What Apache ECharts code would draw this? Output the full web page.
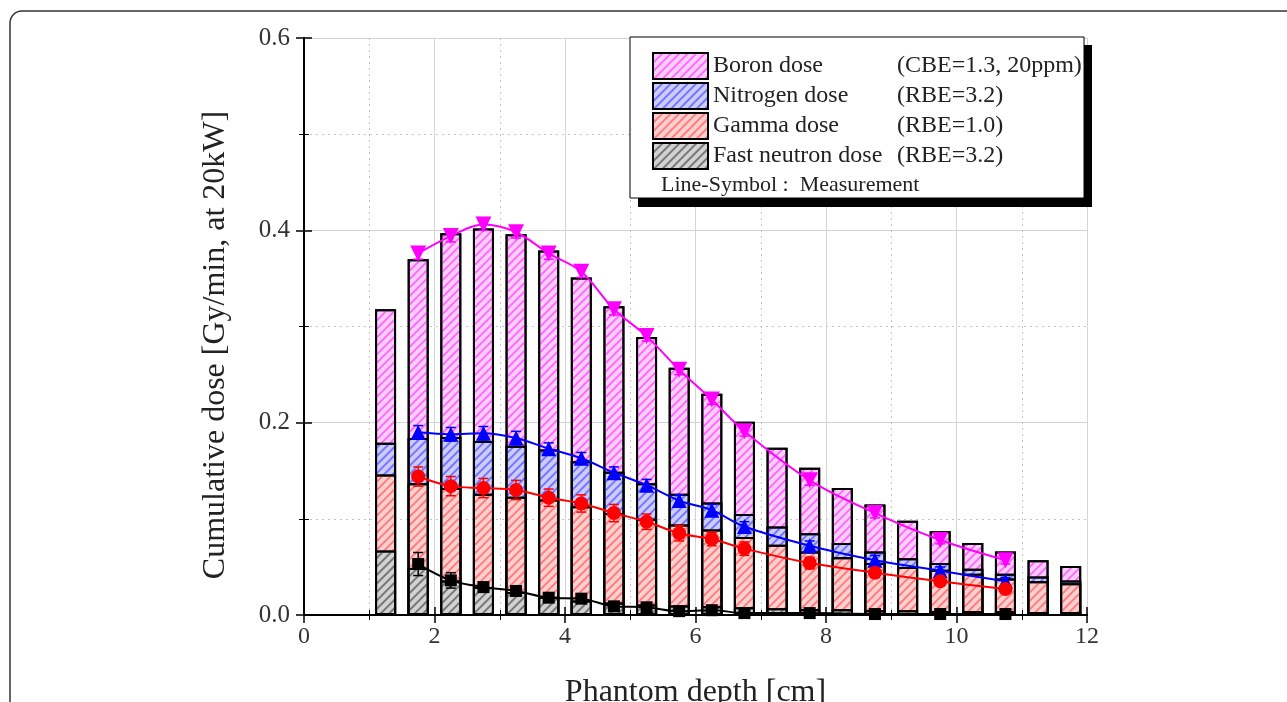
<!DOCTYPE html>
<html>
<head>
<meta charset="utf-8">
<script src="https://cdn.jsdelivr.net/npm/echarts@6.0.0/dist/echarts.min.js"></script>
<style>
  html, body { margin: 0; padding: 0; background: #fff; }
  #chart { width: 1287px; height: 702px; }
</style>
</head>
<body>
<div id="chart"></div>
<script>
// bar positions (cm) and cumulative tops of each stacked part
const barDepth = [1.25, 1.75, 2.25, 2.75, 3.25, 3.75, 4.25, 4.75, 5.25, 5.75, 6.25, 6.75,
  7.25, 7.75, 8.25, 8.75, 9.25, 9.75, 10.25, 10.75, 11.25, 11.75]
const boronTop = [0.318, 0.370, 0.397, 0.402, 0.396, 0.379, 0.351, 0.321, 0.289, 0.257, 0.230, 0.201,
  0.174, 0.153, 0.132, 0.115, 0.098, 0.087, 0.075, 0.066, 0.057, 0.051]
const nitrogenTop = [0.179, 0.184, 0.185, 0.181, 0.176, 0.172, 0.160, 0.149, 0.137, 0.126, 0.117, 0.105,
  0.092, 0.085, 0.075, 0.066, 0.059, 0.054, 0.048, 0.043, 0.040, 0.036]
const gammaTop = [0.146, 0.137, 0.132, 0.126, 0.123, 0.120, 0.113, 0.106, 0.100, 0.094, 0.089, 0.081,
  0.073, 0.066, 0.060, 0.054, 0.050, 0.047, 0.043, 0.038, 0.035, 0.033]
const fastTop = [0.067, 0.049, 0.036, 0.029, 0.024, 0.019, 0.015, 0.013, 0.011, 0.010, 0.009, 0.008,
  0.007, 0.006, 0.006, 0.005, 0.005, 0.004, 0.004, 0.004, 0.003, 0.003]

// measurements (line + symbol)
const measDepth = [1.75, 2.25, 2.75, 3.25, 3.75, 4.25, 4.75, 5.25, 5.75, 6.25, 6.75, 7.75, 8.75, 9.75, 10.75]
const boronMeas = [0.376, 0.394, 0.406, 0.398, 0.376, 0.357, 0.318, 0.290, 0.255, 0.224, 0.191, 0.140, 0.106, 0.078, 0.057]
const nitrogenMeas = [0.190, 0.188, 0.189, 0.184, 0.173, 0.163, 0.148, 0.135, 0.119, 0.109, 0.092, 0.072, 0.057, 0.046, 0.035]
const gammaMeas = [0.144, 0.134, 0.132, 0.130, 0.122, 0.116, 0.106, 0.097, 0.085, 0.079, 0.069, 0.054, 0.044, 0.035, 0.027]
const fastMeas = [0.053, 0.036, 0.029, 0.025, 0.018, 0.017, 0.009, 0.008, 0.004, 0.005, 0.002, 0.002, 0.001, 0.001, 0.001]
const boronErr = [0.006, 0.006, 0.006, 0.006, 0.006, 0.006, 0.006, 0.005, 0.005, 0.005, 0.005, 0.005, 0.005, 0.004, 0.004]
const nitrogenErr = [0.007, 0.007, 0.007, 0.007, 0.006, 0.006, 0.006, 0.006, 0.006, 0.006, 0.005, 0.005, 0.005, 0.004, 0.004]
const gammaErr = [0.010, 0.010, 0.010, 0.010, 0.009, 0.009, 0.009, 0.008, 0.008, 0.007, 0.007, 0.006, 0.005, 0.004, 0.004]
const fastErr = [0.012, 0.008, 0.005, 0.004, 0.003, 0.003, 0.002, 0.002, 0.002, 0.002, 0.001, 0.001, 0.001, 0.001, 0.001]

const legendNames = ['Boron dose', 'Nitrogen dose', 'Gamma dose', 'Fast neutron dose']
const legendFactors = ['(CBE=1.3, 20ppm)', '(RBE=3.2)', '(RBE=1.0)', '(RBE=3.2)']

const serif = 'Liberation Serif'

// bars are drawn from zero up to each cumulative top, the taller ones first
const barPairs = (top) => barDepth.map((x, i) => [x, top[i]])
const pairs = (ys) => measDepth.map((x, i) => [x, ys[i]])
const errPairs = (ys, es) => measDepth.map((x, i) => [x, ys[i], es[i]])

const hatch = (color) => ({
  symbol: 'rect',
  symbolSize: 1,
  dashArrayX: [1, 0],
  dashArrayY: [1.4, 4],
  rotation: -Math.PI / 4,
  color
})

const barSeries = (name, data, fill, stripe) => ({
  name,
  type: 'bar',
  barWidth: 21,
  barGap: '-100%',
  data,
  itemStyle: {
    color: fill,
    borderColor: '#000',
    borderWidth: 2,
    decal: hatch(stripe)
  },
  z: 2
})

const lineSeries = (name, data, color, symbol, size, rotate) => ({
  name,
  type: 'line',
  data,
  smooth: 0.35,
  symbol,
  symbolSize: size,
  symbolRotate: rotate || 0,
  lineStyle: { color, width: 2 },
  itemStyle: { color },
  z: 5
})

const errSeries = (name, data, color) => ({
  name,
  type: 'custom',
  data,
  z: 4,
  renderItem: (params, api) => {
    const x = api.value(0), y = api.value(1), e = api.value(2)
    const hi = api.coord([x, y + e])
    const lo = api.coord([x, Math.max(0, y - e)])
    const style = { stroke: color, lineWidth: 1.5 }
    return {
      type: 'group',
      children: [
        { type: 'line', shape: { x1: hi[0], y1: hi[1], x2: lo[0], y2: lo[1] }, style },
        { type: 'line', shape: { x1: hi[0] - 5, y1: hi[1], x2: hi[0] + 5, y2: hi[1] }, style },
        { type: 'line', shape: { x1: lo[0] - 5, y1: lo[1], x2: lo[0] + 5, y2: lo[1] }, style }
      ]
    }
  }
})

const chart = echarts.init(document.getElementById('chart'))

const frameAxis = {
  axisLine: { show: true, lineStyle: { color: '#000', width: 2 } },
  axisTick: { show: true, inside: true, length: 8, lineStyle: { color: '#000', width: 1.5 } },
  minorTick: { show: true, splitNumber: 2, length: 5, lineStyle: { color: '#000', width: 1 } },
  axisLabel: { show: false },
  splitLine: { show: false }
}

chart.setOption({
  backgroundColor: '#fff',
  animation: false,
  grid: { left: 304, right: 200, top: 38, bottom: 87, containLabel: false, outerBoundsMode: 'none' },
  xAxis: [
    {
      type: 'value',
      min: 0,
      max: 12,
      interval: 2,
      name: 'Phantom depth [cm]',
      nameLocation: 'middle',
      nameGap: 62,
      nameTextStyle: { fontFamily: serif, fontSize: 32, color: '#222' },
      axisLine: { onZero: false, lineStyle: { color: '#000', width: 2 } },
      axisTick: { inside: true, length: 8, lineStyle: { color: '#000', width: 1.5 } },
      minorTick: { show: true, splitNumber: 2, length: 5, lineStyle: { color: '#000', width: 1 } },
      axisLabel: { fontFamily: serif, fontSize: 24, color: '#333', margin: 10 },
      splitLine: { show: true, lineStyle: { color: '#d4d4d4', width: 1 } },
      minorSplitLine: { show: true, lineStyle: { color: '#c4c4c4', width: 1, type: [2, 4] } }
    },
    Object.assign({ type: 'value', min: 0, max: 12, interval: 2, position: 'top' }, frameAxis)
  ],
  yAxis: [
    {
      type: 'value',
      min: 0,
      max: 0.6,
      interval: 0.2,
      name: 'Cumulative dose [Gy/min, at 20kW]',
      nameLocation: 'middle',
      nameGap: 72,
      nameTextStyle: { fontFamily: serif, fontSize: 32, color: '#222', padding: [0, 37, 0, 0] },
      axisLine: { show: true, lineStyle: { color: '#000', width: 2 } },
      axisTick: { show: true, inside: true, length: 8, lineStyle: { color: '#000', width: 1.5 } },
      minorTick: { show: true, splitNumber: 2, length: 5, lineStyle: { color: '#000', width: 1 } },
      axisLabel: { fontFamily: serif, fontSize: 25, color: '#333', margin: 14, formatter: (v) => v.toFixed(1) },
      splitLine: { show: true, lineStyle: { color: '#d4d4d4', width: 1 } },
      minorSplitLine: { show: true, lineStyle: { color: '#c4c4c4', width: 1, type: [2, 4] } }
    },
    Object.assign({ type: 'value', min: 0, max: 0.6, interval: 0.2, position: 'right' }, frameAxis)
  ],
  legend: {
    data: legendNames,
    orient: 'vertical',
    left: 647,
    top: 47,
    itemWidth: 55,
    itemHeight: 26,
    itemGap: 2,
    icon: 'rect',
    z: 20,
    formatter: (name) => `{a|${name}}{b|${legendFactors[legendNames.indexOf(name)]}}`,
    textStyle: {
      fontFamily: serif,
      fontSize: 24,
      lineHeight: 26,
      color: '#222',
      rich: {
        a: { fontFamily: serif, fontSize: 24, color: '#222', width: 184, lineHeight: 26 },
        b: { fontFamily: serif, fontSize: 24, color: '#222', lineHeight: 26 }
      }
    },
    selectedMode: false
  },
  graphic: [
    {
      type: 'rect',
      z: 100,
      shape: { x: 10, y: 11, width: 1400, height: 800, r: 12 },
      style: { fill: 'none', stroke: '#333', lineWidth: 1.5 },
      silent: true
    },
    {
      type: 'rect',
      z: 14,
      shape: { x: 638, y: 45, width: 454, height: 162 },
      style: { fill: '#000' }
    },
    {
      type: 'rect',
      z: 15,
      shape: { x: 630, y: 37, width: 454, height: 161 },
      style: { fill: '#fff', stroke: '#000', lineWidth: 1 }
    },
    {
      type: 'text',
      z: 21,
      x: 661,
      y: 185,
      style: {
        text: 'Line-Symbol :  Measurement',
        font: '22px "Liberation Serif"',
        fill: '#222',
        verticalAlign: 'middle'
      }
    }
  ],
  series: [
    barSeries('Boron dose', barPairs(boronTop), '#ffd0ff', 'rgba(255,40,255,0.6)'),
    barSeries('Nitrogen dose', barPairs(nitrogenTop), '#ccccff', 'rgba(60,60,255,0.6)'),
    barSeries('Gamma dose', barPairs(gammaTop), '#ffd0d0', 'rgba(255,70,70,0.6)'),
    barSeries('Fast neutron dose', barPairs(fastTop), '#d2d2d2', 'rgba(90,90,90,0.75)'),
    errSeries('Boron err', errPairs(boronMeas, boronErr), '#ff00ff'),
    errSeries('Nitrogen err', errPairs(nitrogenMeas, nitrogenErr), '#0000ff'),
    errSeries('Gamma err', errPairs(gammaMeas, gammaErr), '#ff0000'),
    errSeries('Fast err', errPairs(fastMeas, fastErr), '#000000'),
    lineSeries('Boron meas', pairs(boronMeas), '#ff00ff', 'triangle', 16, 180),
    lineSeries('Nitrogen meas', pairs(nitrogenMeas), '#0000ff', 'triangle', 15),
    lineSeries('Gamma meas', pairs(gammaMeas), '#ff0000', 'circle', 14),
    lineSeries('Fast meas', pairs(fastMeas), '#000000', 'rect', 12)
  ]
})
</script>
</body>
</html>
